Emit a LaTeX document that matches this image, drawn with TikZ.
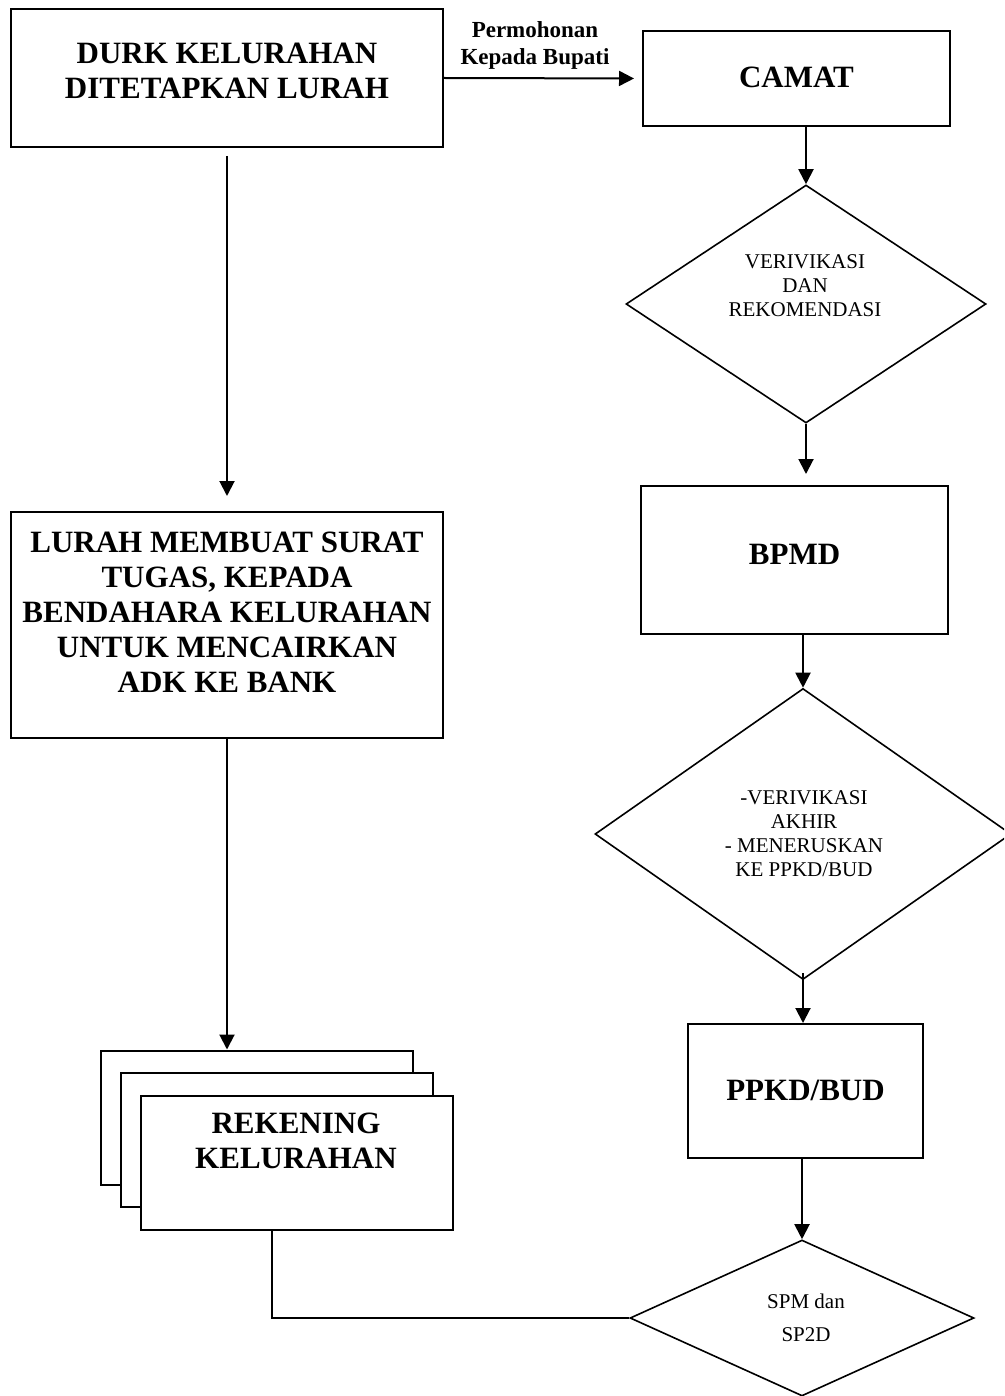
\documentclass[tikz,border=0pt]{standalone}
\usepackage{fontspec}
\setmainfont{Liberation Serif}
\usetikzlibrary{shapes.geometric,arrows.meta}

\begin{document}
\begin{tikzpicture}[x=1pt,y=-1pt,>={Triangle[length=15pt,width=15pt]},
                     box/.style={draw,line width=2pt,inner sep=0pt},
                     choice/.style={diamond,draw,line width=1.6pt,inner sep=0pt},
                     boxtext/.style={align=center,inner sep=0pt,font=\bfseries\fontsize{31}{35}\selectfont},
                     choicetext/.style={align=center,inner sep=0pt,font=\fontsize{21}{24}\selectfont},
                     asktext/.style={align=center,inner sep=0pt,font=\bfseries\fontsize{23}{27}\selectfont},
                     flow/.style={line width=2pt}]
                     \useasboundingbox (0,0) rectangle (1004,1396);
                     \clip (0,0) rectangle (1004,1396);
                     % left column
                     \node[box,minimum width=432pt,minimum height=138pt] (durk) at (227,78) {};
                     \node[boxtext] (durk-t) at (227,71) {DURK KELURAHAN\\DITETAPKAN LURAH};
                     \node[box,minimum width=432pt,minimum height=226pt] (lurah) at (227,625) {};
                     \node[boxtext] (lurah-t) at (227,612) {LURAH MEMBUAT SURAT\\TUGAS, KEPADA\\BENDAHARA KELURAHAN\\UNTUK MENCAIRKAN\\ADK KE BANK};
                     \foreach \i in {2,1,0}{
                       \node[box,fill=white,minimum width=312pt,minimum height=134pt] (rek\i) at (297-20*\i,1162.5-22.5*\i) {};
                     }
                     \node[boxtext] (rek-t) at (296,1141) {REKENING\\KELURAHAN};
                     \coordinate (rekout) at ([xshift=-25pt]rek0.south);
                     % right column
                     \node[box,minimum width=307pt,minimum height=95pt] (camat) at (796.5,78.5) {};
                     \node[boxtext] (camat-t) at (796.5,77) {CAMAT};
                     \node[choice,minimum width=360pt,minimum height=238pt] (verif) at (806,304) {};
                     \node[choicetext] (verif-t) at (805,286) {VERIVIKASI\\DAN\\REKOMENDASI};
                     \node[box,minimum width=307pt,minimum height=148pt] (bpmd) at (794.5,560) {};
                     \node[boxtext] (bpmd-t) at (794.5,554) {BPMD};
                     \node[choice,minimum width=416pt,minimum height=291pt] (akhir) at (803,834) {};
                     \node[choicetext] (akhir-t) at (804,834) {-VERIVIKASI\\AKHIR\\- MENERUSKAN\\KE PPKD/BUD};
                     \node[box,minimum width=235pt,minimum height=134pt] (ppkd) at (805.5,1091) {};
                     \node[boxtext] (ppkd-t) at (805.5,1090) {PPKD/BUD};
                     \node[choice,minimum width=344pt,minimum height=156pt] (spm) at (802,1318) {};
                     \node[choicetext,font=\fontsize{21}{33}\selectfont] (spm-t) at (806,1318) {SPM dan\\SP2D};
                     % connectors
                     \draw[flow,->,shorten >=8pt] (durk.east) -- (camat.west)
                       node[midway,above=8pt,xshift=-8pt,asktext] (ask) {Permohonan\\Kepada Bupati};
                     \draw[flow,->,shorten <=8pt,shorten >=15pt] (durk.south) -- (lurah.north);
                     \draw[flow,->] (lurah.south) -- (lurah.south |- rek2.north);
                     \draw[flow,->] (verif.north |- camat.south) -- (verif.north);
                     \draw[flow,->,shorten >=11pt] (verif.south) -- (verif.south |- bpmd.north);
                     \draw[flow,->] (akhir.north |- bpmd.south) -- (akhir.north);
                     \draw[flow,->,shorten <=-7pt] (akhir.south) -- (akhir.south |- ppkd.north);
                     \draw[flow,->] (spm.north |- ppkd.south) -- (spm.north);
                     \draw[flow] (rekout) |- (spm.west);
                   \end{tikzpicture}
\end{document}
